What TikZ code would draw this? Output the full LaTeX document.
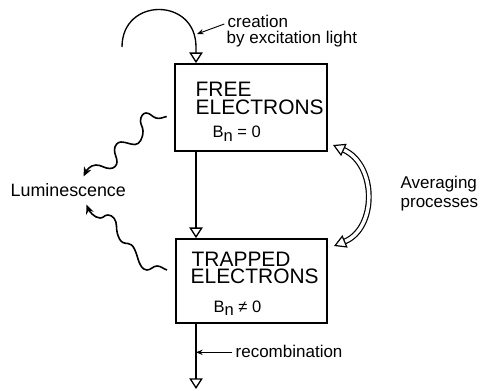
\documentclass[tikz,border=0pt]{standalone}
\usepackage{fontspec}
\setmainfont{Liberation Sans}
\usetikzlibrary{arrows.meta}
\begin{document}
\begin{tikzpicture}[x=0.75pt,y=-0.75pt,
  line width=1pt,
  box/.style={draw,line width=1.3pt,inner sep=0pt,rectangle},
  lbl/.style={anchor=base west,inner sep=0pt,font=\fontsize{12.75pt}{14pt}\selectfont},
  btxt/.style={anchor=base west,inner sep=0pt,text height=11pt,text depth=0pt,font=\fontsize{15.7pt}{17pt}\selectfont},
  bsym/.style={anchor=base west,inner sep=0pt,font=\fontsize{12.4pt}{14pt}\selectfont},
  hollow/.style={-{Triangle[open,length=8pt,width=10pt,line width=1pt]}},
  pointer/.style={-{Stealth[length=5pt,width=4pt]}, line width=0.7pt},
  wave/.style={-{Stealth[length=7pt,width=6pt]}, line width=1.2pt}
]
\useasboundingbox (0,0) rectangle (484,391);

% boxes
\node[box,minimum width=114pt,minimum height=65.25pt] (free) at (251,107.5) {};
\node[box,minimum width=113.25pt,minimum height=63pt] (trap) at (251.5,281) {};

\node[btxt] (f1) at (195,97) {FREE};
\node[btxt] (f2) at (195,115) {ELECTRONS};
\node[bsym] (f3) at (212,138) {B\raisebox{-2.3pt}{n} = 0};

\node[btxt] (t1) at (191,266) {TRAPPED};
\node[btxt] (t2) at (190,283) {ELECTRONS};
\node[bsym] (t3) at (213,312.5) {B\raisebox{-2.3pt}{n} ≠ 0};

% labels
\node[lbl] (cr1) at (227,28) {creation};
\node[lbl] (cr2) at (226,44) {by excitation light};
\node[lbl,font=\fontsize{13.4pt}{15pt}\selectfont] (lum) at (10,196.5) {Luminescence};
\node[lbl] (av1) at (400,189) {Averaging};
\node[lbl] (av2) at (400,208) {processes};
\node[lbl] (rec) at (235,357) {recombination};

% coordinates
\coordinate (vx) at (196,0);
\coordinate (arcs) at (122,47);
\coordinate (arce) at (196,47);
\coordinate (cp) at (197,34);
\coordinate (bot) at (196,389);
\coordinate (w1s) at (166.7,116.5);
\coordinate (w1e) at (83.5,176.5);
\coordinate (w2s) at (167,270);
\coordinate (w2e) at (86.5,204.5);
\coordinate (d1) at (333,145);
\coordinate (d2) at (334,246);

% creation arc
\draw[hollow] (arcs) .. controls (122,-3) and (196,-3) .. (arce) -- (free.north -| vx);
\draw[pointer] ([shift={(-2pt,3pt)}]cr1.base west) -- (cp);

% vertical arrows
\draw[hollow] (free.south -| vx) -- (trap.north -| vx);
\draw[hollow] (trap.south -| vx) -- (bot);
\draw[pointer] ([shift={(-2pt,3.5pt)}]rec.base west) coordinate (rs) -- (rs -| vx);

% luminescence waves
\draw[wave] (w1s)
  .. controls (162.5,117.4) and (160.1,119.2) .. (156,118)
  .. controls (151.7,116.7) and (150.5,113) .. (146,113)
  .. controls (143,113) and (140.5,116.6) .. (140.5,121)
  .. controls (140.5,125) and (143,127) .. (143,131)
  .. controls (143,138.4) and (139.4,144.5) .. (135,144.5)
  .. controls (129.4,144.5) and (126.6,142) .. (121,142)
  .. controls (117.4,142) and (114.5,145.6) .. (114.5,150)
  .. controls (114.5,154.8) and (117,157.2) .. (117,162)
  .. controls (117,165.6) and (113.9,168.5) .. (110,168.5)
  .. controls (104.4,168.5) and (101.6,165) .. (96,165)
  .. controls (90,165) and (86.2,171.1) .. (w1e);
\draw[wave] (w2s)
  .. controls (163.2,268.8) and (161,266) .. (157,266)
  .. controls (153,266) and (151,270) .. (147,270)
  .. controls (142,270) and (139.5,263.8) .. (138,259)
  .. controls (136,252.3) and (133.5,243.5) .. (128,243.5)
  .. controls (124,243.5) and (121.1,242.2) .. (119.5,239)
  .. controls (117.3,234.5) and (116.5,231) .. (116.5,226)
  .. controls (116.5,220) and (112.7,215) .. (108,215)
  .. controls (104,215) and (104,218) .. (100,218)
  .. controls (94,218) and (88.7,210.1) .. (w2e);

% averaging
\draw[double, double distance=2.6pt, line width=0.9pt,
  {Triangle[open,length=9pt,width=10pt]}-{Triangle[open,length=9pt,width=10pt]}]
  (d1) .. controls (377,165) and (377,228) .. (d2);
\end{tikzpicture}
\end{document}
